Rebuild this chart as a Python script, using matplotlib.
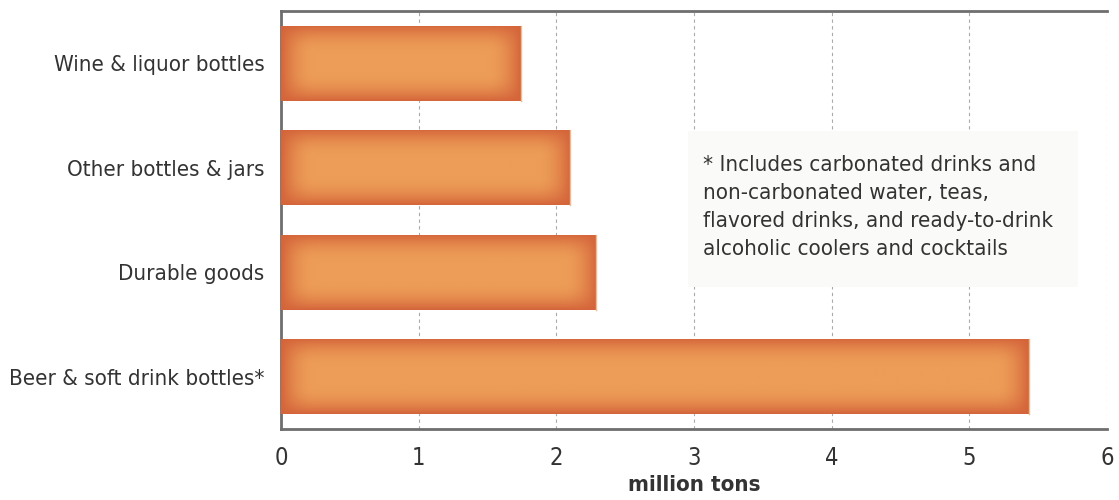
import matplotlib.pyplot as plt
import numpy as np
from matplotlib.colors import to_rgb
from matplotlib.patches import Rectangle

# kategori dan nilai (juta ton)
categories = ['Beer & soft drink bottles*', 'Durable goods',
              'Other bottles & jars', 'Wine & liquor bottles']
values = [5.43, 2.29, 2.10, 1.74]
xticks = [0, 1, 2, 3, 4, 5, 6]
note = ('* Includes carbonated drinks and\n'
        'non-carbonated water, teas,\n'
        'flavored drinks, and ready-to-drink\n'
        'alcoholic coolers and cocktails')

plt.rcParams['font.family'] = ['DejaVu Sans']
plt.rcParams['font.stretch'] = 'condensed'

fig = plt.figure(figsize=(11.19, 5), dpi=100)
ax = fig.add_axes([281/1119, 1-429/500, 826/1119, 418/500])

y = np.arange(len(categories))
bars = ax.barh(y, values, height=0.72, color='#EC9B55', edgecolor='none', zorder=2)

ax.set_xlim(0, 6)
ax.set_ylim(-0.5, 3.5)

# efek bayangan di tepi batang (gradien halus dari tepi ke tengah)
center = np.array(to_rgb('#ED9D57'))
edge = np.array(to_rgb('#D4643A'))
for b in bars:
    x0, y0 = b.get_x(), b.get_y()
    w, h = b.get_width(), b.get_height()
    nx = int(w * 826 / 6)
    ny = int(h * 418 / 4)
    xx = np.arange(nx) + 0.5
    yy = np.arange(ny) + 0.5
    dx = np.minimum(xx, nx - xx)
    dy = np.minimum(yy, ny - yy)
    tx = 1 - (1 - np.clip(dx / 34.0, 0, 1)) ** 2
    ty = 1 - (1 - np.clip(dy / 28.0, 0, 1)) ** 2
    t = ty[:, None] * tx[None, :]
    img = edge[None, None, :] * (1 - t[..., None]) + center[None, None, :] * t[..., None]
    im = ax.imshow(img, extent=[x0, x0 + w, y0, y0 + h], aspect='auto',
                   interpolation='bilinear', zorder=3, origin='lower')
    im.set_clip_path(b)
    # garis tepi terang di sisi kanan
    ax.plot([x0 + w, x0 + w], [y0, y0 + h], color='#F3B98A', linewidth=1, zorder=4)

ax.set_yticks(y)
ax.set_yticklabels(categories, fontsize=16, color='#333333')
ax.set_xticks(xticks)
ax.set_xticklabels([str(v) for v in xticks], fontsize=17, color='#333333')
ax.tick_params(axis='both', length=0)
ax.tick_params(axis='y', pad=12)
ax.tick_params(axis='x', pad=12)

ax.grid(axis='x', color='#AAAAAA', linestyle=(0, (3, 3)), linewidth=0.8, zorder=0)
ax.set_axisbelow(True)

for s in ['top', 'left', 'bottom']:
    ax.spines[s].set_color('#6E6E6E')
    ax.spines[s].set_linewidth(2)
ax.spines['right'].set_visible(False)

ax.set_xlabel('million tons', fontsize=16, fontweight='bold', color='#333333', labelpad=4)

# kotak catatan
ax.add_patch(Rectangle((2.956, 0.86), 5.79 - 2.956, 2.35 - 0.86,
                       facecolor='#FAFAF8', edgecolor='none', zorder=1.5))
ax.text(3.065, 1.62, note, fontsize=16, color='#333333', va='center', ha='left',
        linespacing=1.5, zorder=5)

plt.savefig('out.png', dpi=100)
